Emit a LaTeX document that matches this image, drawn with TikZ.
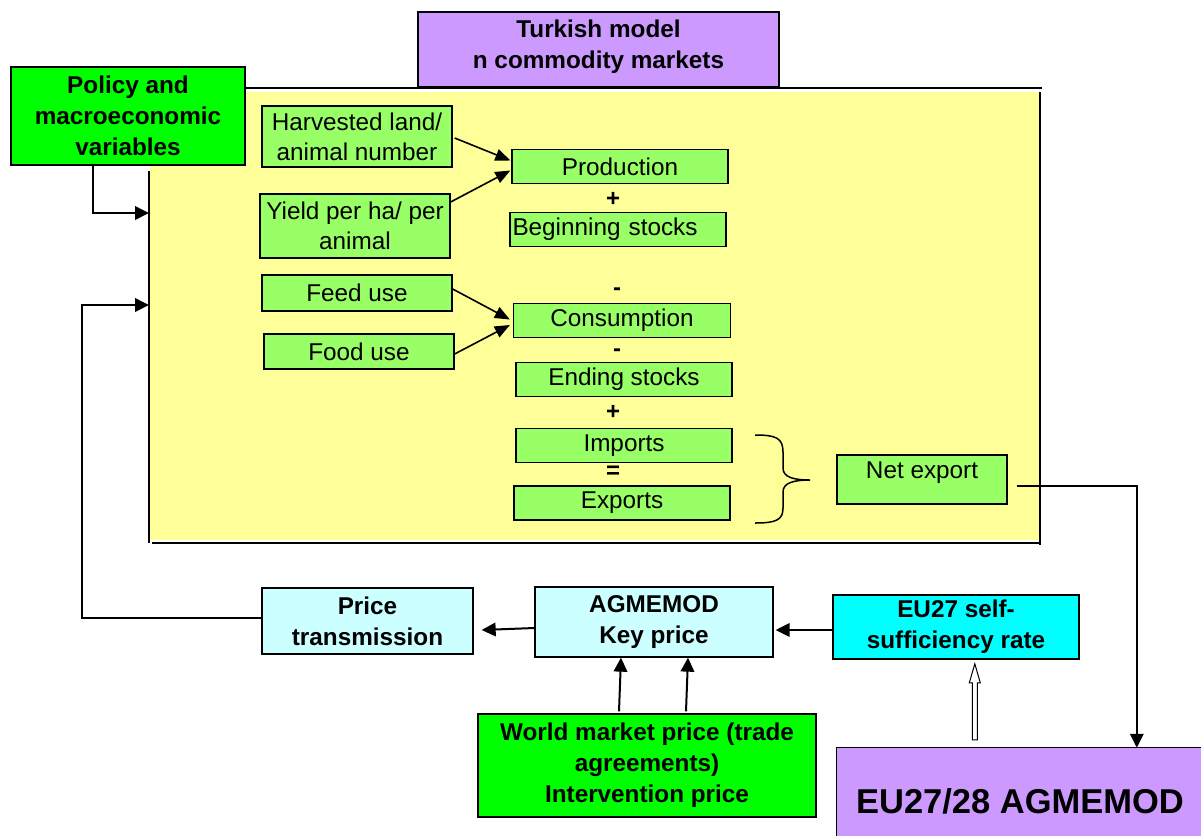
\documentclass[tikz,border=0pt]{standalone}
\usepackage{fontspec}
\setmainfont{Liberation Sans}
\usetikzlibrary{arrows.meta,calc}
\definecolor{purp}{HTML}{CC99FF}
\definecolor{brgreen}{HTML}{00FF00}
\definecolor{ltgreen}{HTML}{99FF66}
\definecolor{ylw}{HTML}{FFFF99}
\definecolor{ltcyan}{HTML}{CCFFFF}
\definecolor{cyn}{HTML}{00FFFF}
\begin{document}
\begin{tikzpicture}[x=1pt,y=-1pt,
  every node/.style={font=\fontsize{24.3}{30}\selectfont, align=center, inner sep=0pt, text=black},
  bx/.style={draw=black, line width=1.3pt},
  gbox/.style={bx, fill=ltgreen},
  bold/.style={font=\fontsize{24.3}{31}\selectfont\bfseries},
  sign/.style={font=\fontsize{24}{30}\selectfont\bfseries},
  arr/.style={line width=2pt, -{Triangle[length=14pt,width=13.5pt]}},
  tarr/.style={line width=1.6pt, -{Triangle[length=15pt,width=12pt]}},
  frame/.style={line width=1.5pt},
  hollow/.style={line width=1pt, draw=black, fill=white}
]
\useasboundingbox (0,0) rectangle (1201,836);

% yellow model area
\fill[ylw] (150,92) rectangle (1039,540);
\draw[frame] (243,88) -- (1042,88);
\draw[frame] (1040,92) -- (1040,545);
\draw[frame] (152,543) -- (1040,543);
\draw[frame] (149,171) -- (149,543);
\coordinate (yl1) at (149,213);
\coordinate (yl2) at (149,305);

% title boxes
\node[bx, fill=purp, minimum width=361pt, minimum height=75pt] (turk) at (598.5,49.5) {};
\node[font=\fontsize{24.3}{31.5}\selectfont\bfseries] (turkt) at (598.5,46.5) {Turkish model\\n commodity markets};
\node[bx, fill=brgreen, minimum width=234pt, minimum height=98pt, bold] (policy) at (128,116) {Policy and\\macroeconomic\\variables};

% inner green boxes
\node[gbox, minimum width=190pt, minimum height=61pt] (harv) at (357,136.5) {Harvested land/\\animal number};
\node[gbox, minimum width=190pt, minimum height=64pt] (yield) at (355,226) {Yield per ha/ per\\animal};
\node[gbox, minimum width=216pt, minimum height=34pt] (prod) at (620,166.5) {Production};
\node[sign] (s1) at (613,199) {+};
\node[gbox, minimum height=34pt, text width=211pt, inner xsep=2.5pt, align=left] (beg) at (618,229.5) {Beginning stocks};
\node[gbox, minimum width=190pt, minimum height=36pt] (feed) at (357,293) {Feed use};
\node[gbox, minimum width=190pt, minimum height=35pt] (food) at (359,351.5) {Food use};
\node[sign] (s2) at (617,292) {-};
\node[gbox, minimum width=217pt, minimum height=34pt] (cons) at (622,320.5) {Consumption};
\node[sign] (s3) at (617,353) {-};
\node[gbox, minimum width=216pt, minimum height=34pt] (end) at (624,379.5) {Ending stocks};
\node[sign] (s4) at (613,412) {+};
\node[gbox, minimum width=216pt, minimum height=34pt] (imp) at (624,445.5) {Imports};
\node[sign] (s5) at (613,472) {=};
\node[gbox, minimum width=216pt, minimum height=34pt] (exp) at (622,503) {Exports};
\node[gbox, minimum width=170pt, minimum height=49pt] (net) at (922,479.5) {};
\node (nett) at (922,473) {Net export};

% brace
\draw[line width=1.5pt] (755,435) .. controls (776,435) and (783,438) .. (783,452)
  -- (783,468) .. controls (783,477) and (793,480) .. (810,480)
  .. controls (793,480) and (783,483) .. (783,492)
  -- (783,508) .. controls (783,520) and (776,523) .. (755,523);

% bottom boxes
\node[bx, fill=ltcyan, minimum width=211pt, minimum height=66pt, bold] (pt) at (367.5,621) {Price\\transmission};
\node[bx, fill=ltcyan, minimum width=238pt, minimum height=70pt, bold] (key) at (654,622) {AGMEMOD\\Key price};
\node[bx, fill=cyn, minimum width=246pt, minimum height=64pt, bold] (self) at (956,627) {EU27 self-\\sufficiency rate};
\node[bx, fill=brgreen, minimum width=338pt, minimum height=103pt, bold] (world) at (647,765.5) {World market price (trade\\agreements)\\Intervention price};
\node[fill=purp, minimum width=364pt, minimum height=88pt] (eu28) at (1019,792) {};
\draw[line width=1.3pt] (eu28.south west) -- (eu28.north west) -- (eu28.north east);
\node[font=\fontsize{34.5}{40}\selectfont\bfseries] (eu28t) at (1020,801) {EU27/28 AGMEMOD};

% connectors inside
\draw[tarr] ($(harv.east)+(2,1.5)$) -- ($(prod.west)+(-1,-6)$);
\draw[tarr] ($(yield.east)+(0,-24)$) -- ($(prod.west)+(-1,4)$);
\draw[tarr] ($(feed.east)+(0,-4)$) -- ($(cons.west)+(-3,-1)$);
\draw[tarr] ($(food.east)+(0,2.5)$) -- ($(cons.west)+(-3,4.5)$);

% outer connectors
\draw[arr] ($(policy.south)+(-35,0)$) |- (yl1);
\draw[arr] ($(pt.west)+(0,-3)$) -| ($(yl2)+(-67,0)$) -- (yl2);
\draw[arr] ($(key.west)+(0,6)$) -- ($(pt.east)+(8,9)$);
\draw[arr] ($(self.west)+(0,3)$) -- ($(key.east)+(2,8)$);
\draw[arr] ($(world.north)+(-28,-2)$) -- ($(key.south)+(-33,0)$);
\draw[arr] ($(world.north)+(39,-2)$) -- ($(key.south)+(34,0)$);
\draw[arr] ($(net.east)+(9,6.5)$) -| ($(eu28.north west)+(300,0)$);

% hollow arrow from EU27/28 AGMEMOD to self-sufficiency
\coordinate (hb) at ($(eu28.north west)+(138,-8)$);
\draw[hollow, shift={(hb)}] (-2.5,0) -- (-2.5,-57) -- (-5.5,-57) -- (0,-76) -- (5.5,-57) -- (2.5,-57) -- (2.5,0) -- cycle;
\end{tikzpicture}
\end{document}
